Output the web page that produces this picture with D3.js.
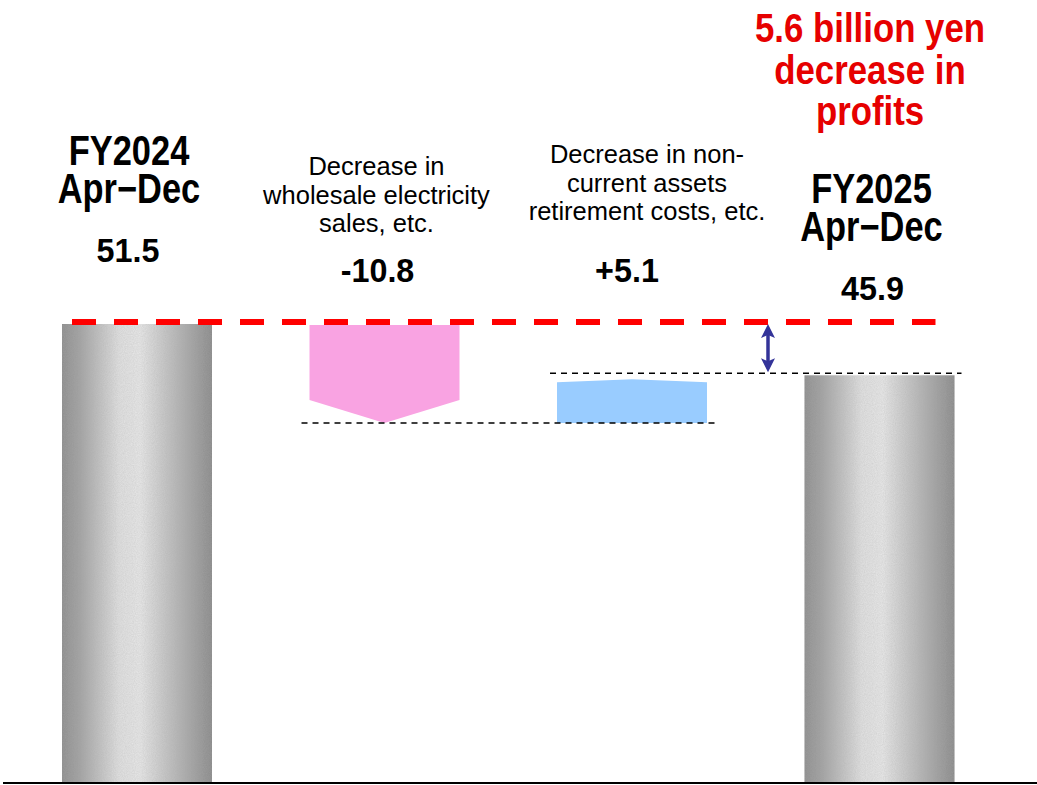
<!DOCTYPE html>
<html>
<head>
<meta charset="utf-8">
<script src="https://cdn.jsdelivr.net/npm/d3@7"></script>
<style>
  body { margin: 0; background: #fff; }
  svg { display: block; }
  text { font-family: "Liberation Sans", Arial, sans-serif; }
</style>
</head>
<body>
<div id="chart"></div>
<script>
// data
var steps = ["start", "wholesale", "retirement", "end"];
var stepValues = [51.5, -10.8, 5.1, 45.9];
var valueLabels = ["51.5", "-10.8", "+5.1", "45.9"];
var headLines = [["FY2024", "Apr\u2212Dec"], [], [], ["FY2025", "Apr\u2212Dec"]];
var noteLines = [[], ["Decrease in", "wholesale electricity", "sales, etc."],
                 ["Decrease in non-", "current assets", "retirement costs, etc."], []];
var titleLines = ["5.6 billion yen", "decrease in", "profits"];

var width = 1037, height = 785;
var axisY = 783;

var svg = d3.select("#chart").append("svg")
    .attr("width", width)
    .attr("height", height);

var x = d3.scaleBand()
    .domain(steps)
    .range([13.25, 1003.25])
    .paddingInner(0.394)
    .paddingOuter(0.197);

var y = d3.scaleLinear()
    .domain([0, 51.5])
    .range([796, 324]);

var defs = svg.append("defs");
var grad = defs.append("linearGradient").attr("id", "cyl").attr("x1", "0%").attr("x2", "100%");
[["0%", "#8c8c8c"], ["12%", "#a2a2a2"], ["38%", "#e2e2e2"], ["52%", "#e9e9e9"], ["80%", "#b0b0b0"], ["100%", "#888888"]]
    .forEach(function(s) { grad.append("stop").attr("offset", s[0]).attr("stop-color", s[1]); });

// grainy texture like the original picture
var grain = defs.append("filter").attr("id", "grain");
grain.append("feTurbulence").attr("type", "fractalNoise").attr("baseFrequency", 0.9).attr("numOctaves", 2).attr("result", "n");
grain.append("feColorMatrix").attr("in", "n").attr("type", "matrix")
    .attr("values", "0 0 0 0 0.4  0 0 0 0 0.4  0 0 0 0 0.4  0 0 0 0.4 0").attr("result", "g");
grain.append("feComposite").attr("in", "g").attr("in2", "SourceGraphic").attr("operator", "in").attr("result", "gm");
var merge = grain.append("feMerge");
merge.append("feMergeNode").attr("in", "SourceGraphic");
merge.append("feMergeNode").attr("in", "gm");

// running totals
var running = [];
var acc = 0;
stepValues.forEach(function(v, i) {
    if (i === 0 || i === steps.length - 1) { running.push({from: 0, to: v}); acc = v; }
    else { running.push({from: acc, to: acc + v}); acc = acc + v; }
});

// total bars
svg.selectAll("rect.total")
    .data([0, 3])
  .enter()
    .append("rect")
    .attr("class", "total")
    .attr("x", function(i) { return x(steps[i]); })
    .attr("y", function(i) { return y(stepValues[i]); })
    .attr("width", x.bandwidth())
    .attr("height", function(i) { return axisY - y(stepValues[i]); })
    .style("fill", "url(#cyl)")
    .attr("filter", "url(#grain)");

// decrease (pink, pointing down)
var x0 = x(steps[1]), x1 = x0 + x.bandwidth(), xc = x0 + x.bandwidth() / 2;
var top1 = y(running[1].from) + 1, tip1 = y(running[1].to);
svg.append("path")
    .attr("d", "M" + x0 + "," + top1 + "L" + x1 + "," + top1 + "L" + x1 + "," + (tip1 - 23) +
               "L" + xc + "," + tip1 + "L" + x0 + "," + (tip1 - 23) + "Z")
    .style("fill", "#f9a3e2");

// increase (blue, pointing up)
x0 = x(steps[2]); x1 = x0 + x.bandwidth(); xc = x0 + x.bandwidth() / 2;
var base2 = y(running[2].from), tip2 = y(running[2].to) + 3;
svg.append("path")
    .attr("d", "M" + x0 + "," + base2 + "L" + x1 + "," + base2 + "L" + x1 + "," + (tip2 + 3) +
               "L" + xc + "," + tip2 + "L" + x0 + "," + (tip2 + 3) + "Z")
    .style("fill", "#99ccff");

// guide lines
svg.append("line")
    .attr("x1", x(steps[0]) + 10).attr("x2", x(steps[3]) + x.bandwidth() - 19)
    .attr("y1", y(stepValues[0]) - 2).attr("y2", y(stepValues[0]) - 2)
    .style("stroke", "#ff0000").style("stroke-width", 6).style("stroke-dasharray", "24 18");

svg.append("line")
    .attr("x1", x(steps[1]) - 8).attr("x2", x(steps[2]) + x.bandwidth() + 9)
    .attr("y1", y(running[1].to)).attr("y2", y(running[1].to))
    .style("stroke", "#000").style("stroke-width", 1.5).style("stroke-dasharray", "6 5");

svg.append("line")
    .attr("x1", x(steps[2]) - 7).attr("x2", x(steps[3]) + x.bandwidth() + 7)
    .attr("y1", y(stepValues[3]) - 2).attr("y2", y(stepValues[3]) - 2)
    .style("stroke", "#000").style("stroke-width", 1.5).style("stroke-dasharray", "6 5");

// double arrow showing the difference
var ax = 768, ay0 = y(stepValues[0]), ay1 = y(stepValues[3]) - 3;
svg.append("line")
    .attr("x1", ax).attr("x2", ax).attr("y1", ay0 + 10).attr("y2", ay1 - 10)
    .style("stroke", "#333399").style("stroke-width", 3.5);
svg.append("path")
    .attr("d", "M" + ax + "," + ay0 + "L" + (ax + 7) + "," + (ay0 + 14) + "L" + ax + "," + (ay0 + 11) +
               "L" + (ax - 7) + "," + (ay0 + 14) + "Z")
    .style("fill", "#333399");
svg.append("path")
    .attr("d", "M" + ax + "," + ay1 + "L" + (ax + 7) + "," + (ay1 - 14) + "L" + ax + "," + (ay1 - 11) +
               "L" + (ax - 7) + "," + (ay1 - 14) + "Z")
    .style("fill", "#333399");

// axis baseline
svg.append("line")
    .attr("x1", 3).attr("x2", width).attr("y1", axisY).attr("y2", axisY)
    .style("stroke", "#000").style("stroke-width", 2);

// labels
var headDx = [-8, 0, 0, -8];
var headBase = [165, 0, 0, 203];
var noteDx = [0, -8, 15, 0];
var noteBase = [0, 175, 163, 0];
var valDx = [-9, -7, -5, -7];
var valBase = [262, 282, 282, 300];

steps.forEach(function(s, i) {
    var cx = x(s) + x.bandwidth() / 2;
    headLines[i].forEach(function(t, j) {
        svg.append("text")
            .attr("transform", "translate(" + (cx + headDx[i]) + "," + (headBase[i] + j * 38) + ") scale(0.82,1)")
            .attr("text-anchor", "middle")
            .style("font-size", "42px").style("font-weight", "bold").style("fill", "#000")
            .text(t);
    });
    noteLines[i].forEach(function(t, j) {
        svg.append("text")
            .attr("x", cx + noteDx[i]).attr("y", noteBase[i] + j * 28.7)
            .attr("text-anchor", "middle")
            .style("font-size", "25.5px").style("fill", "#000")
            .text(t);
    });
    svg.append("text")
        .attr("transform", "translate(" + (cx + valDx[i]) + "," + valBase[i] + ") scale(0.95,1)")
        .attr("text-anchor", "middle")
        .style("font-size", "34px").style("font-weight", "bold").style("fill", "#000")
        .text(valueLabels[i]);
});

titleLines.forEach(function(t, j) {
    svg.append("text")
        .attr("transform", "translate(870," + (42 + j * 41.5) + ") scale(0.87,1)")
        .attr("text-anchor", "middle")
        .style("font-size", "40px").style("font-weight", "bold").style("fill", "#e60000")
        .text(t);
});
</script>
</body>
</html>
